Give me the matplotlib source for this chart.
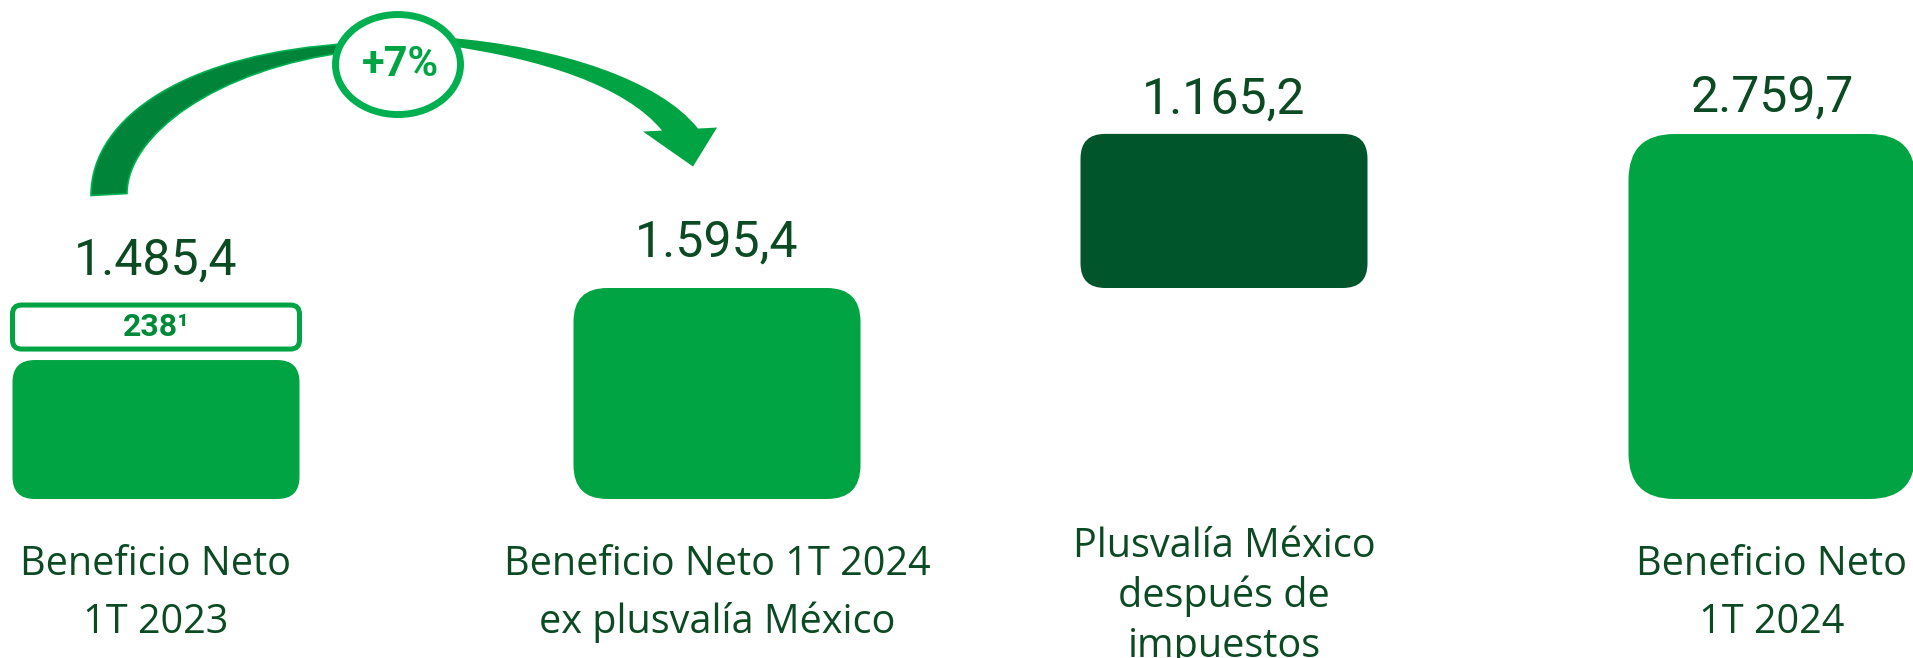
import matplotlib
matplotlib.use('Agg')
import matplotlib.pyplot as plt
from matplotlib.patches import FancyBboxPatch, Ellipse, PathPatch
from matplotlib.path import Path

# datos (millones de euros)
categorias = ['Beneficio Neto\n1T 2023',
              'Beneficio Neto 1T 2024\nex plusvalía México',
              'Plusvalía México\ndespués de\nimpuestos',
              'Beneficio Neto\n1T 2024']
valores = [1485.4, 1595.4, 1165.2, 2759.7]
etiquetas = ['1.485,4', '1.595,4', '1.165,2', '2.759,7']
ajuste = '238'
variacion = '+7%'

VERDE = '#00A443'
VERDE_OSC = '#00552A'
VERDE_FLECHA = '#00843A'
VERDE_CLARO = '#00B050'
TEXTO = '#0B4A22'

plt.rcParams['font.family'] = ['Roboto', 'DejaVu Sans']

W, H = 1913, 658
fig = plt.figure(figsize=(W / 100, H / 100), dpi=100)
ax = fig.add_axes([0, 0, 1, 1])
ax.axis('off')

PX = 0.13226          # pixeles por unidad en el eje y
base_px = 159         # altura de la linea base desde abajo
ax.set_xlim(0, W)
ax.set_ylim(-base_px / PX, (H - base_px) / PX)
ASP = 1 / PX          # para que las esquinas redondeadas salgan circulares

x_pos = [156, 717, 1224, 1772]
ancho = 287


def barra(x, y0, y1, color, radio=None, **kw):
    alto_px = (y1 - y0) * PX
    if radio is None:
        radio = 0.16 * min(ancho, alto_px)
    p = FancyBboxPatch((x - ancho / 2, y0), ancho, y1 - y0,
                       boxstyle=f'round,pad=0,rounding_size={radio}',
                       mutation_aspect=ASP, facecolor=color, edgecolor='none', **kw)
    ax.add_patch(p)


# barra 1: base + recuadro del ajuste encima
caja_alto = 44 / PX
hueco = 11 / PX
caja_y0 = valores[0] - 2.5 / PX - caja_alto
barra(x_pos[0], 0, caja_y0 - hueco, VERDE)
caja = FancyBboxPatch((x_pos[0] - ancho / 2, caja_y0), ancho, caja_alto,
                      boxstyle='round,pad=0,rounding_size=9', mutation_aspect=ASP,
                      facecolor='white', edgecolor=VERDE, linewidth=3.6)
ax.add_patch(caja)
ax.text(x_pos[0], caja_y0 + caja_alto / 2, ajuste + '¹', ha='center', va='center',
        fontsize=23, fontweight='bold', color='#008A3A')

# barras 2-4 (cascada)
barra(x_pos[1], 0, valores[1], VERDE)
barra(x_pos[2], valores[1], valores[1] + valores[2], VERDE_OSC)
barra(x_pos[3], 0, valores[3], VERDE)

tops = [valores[0], valores[1], valores[1] + valores[2], valores[3]]
offs = [20, 23, 15, 16]
for x, t, et, o in zip(x_pos, tops, etiquetas, offs):
    ax.annotate(et, (x, t), xytext=(0, o), textcoords='offset points',
                ha='center', va='baseline', fontsize=36, color=TEXTO)

# nombres de categoria, linea a linea
for x, cat in zip(x_pos, categorias):
    lineas = cat.split('\n')
    if len(lineas) == 3:
        y0, paso = -41.8, 36
    else:
        y0, paso = -54.7, 41.8
    for i, linea in enumerate(lineas):
        ax.annotate(linea, (x, 0), xytext=(0, y0 - i * paso), textcoords='offset points',
                    ha='center', va='baseline', fontsize=28.5, color=TEXTO,
                    family=['Open Sans', 'DejaVu Sans'])


# flecha curva entre barra 1 y barra 2 (desplazamientos en px desde la cima de la barra 1)
def pt(dx, dy):
    return (x_pos[0] + dx, valores[0] + dy / PX)


tramo1 = [pt(-65, 107), pt(-65, 187), pt(34, 250), pt(195, 259),
          pt(195, 251), pt(59, 234), pt(-29, 167), pt(-29, 109), pt(-65, 107)]
cod1 = [Path.MOVETO, Path.CURVE4, Path.CURVE4, Path.CURVE4,
        Path.LINETO, Path.CURVE4, Path.CURVE4, Path.CURVE4, Path.CLOSEPOLY]
ax.add_patch(PathPatch(Path(tramo1, cod1), facecolor=VERDE_FLECHA,
                       edgecolor=VERDE_CLARO, linewidth=1.2, zorder=3))

tramo2 = [pt(290, 265), pt(404, 256), pt(504, 222), pt(542, 174),
          pt(561, 175), pt(537, 136), pt(487, 171), pt(506, 172),
          pt(469, 217), pt(384, 244), pt(290, 257), pt(290, 265)]
cod2 = [Path.MOVETO, Path.CURVE4, Path.CURVE4, Path.CURVE4,
        Path.LINETO, Path.LINETO, Path.LINETO, Path.LINETO,
        Path.CURVE4, Path.CURVE4, Path.CURVE4, Path.CLOSEPOLY]
ax.add_patch(PathPatch(Path(tramo2, cod2), facecolor=VERDE, edgecolor='none', zorder=3))

cx, cy = pt(242, 238)
ax.add_patch(Ellipse((cx, cy), 125, 100 / PX, facecolor='white',
                     edgecolor=VERDE_CLARO, linewidth=5, zorder=4))
ax.text(cx + 2, cy, variacion, ha='center', va='center', fontsize=30,
        fontweight='bold', color=VERDE, zorder=5)

fig.savefig('out.png', dpi=100, facecolor='white')
